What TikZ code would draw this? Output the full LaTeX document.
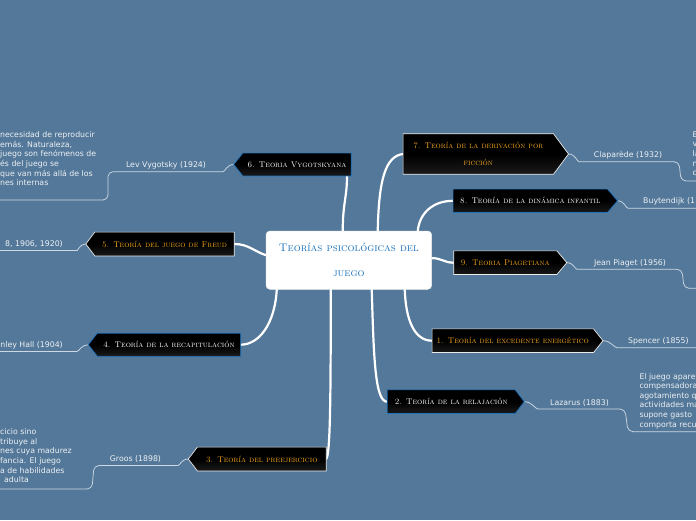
\documentclass[tikz,border=0pt]{standalone}
\usepackage{fontspec}
\newfontfamily\labfont{DejaVu Sans}
\usetikzlibrary{calc,backgrounds}
\pgfdeclarelayer{bgcolor}
\pgfsetlayers{bgcolor,background,main}
\definecolor{bgc}{RGB}{84,120,153}
\definecolor{bord}{RGB}{30,115,190}
\definecolor{orng}{RGB}{247,168,27}
\definecolor{cblue}{RGB}{25,112,186}
\definecolor{thinc}{RGB}{205,216,227}
\definecolor{ltxt}{RGB}{236,240,244}
\tikzset{
 bx/.style={rectangle, inner sep=0pt, align=center, font=\fontsize{8.2}{10}\selectfont\scshape},
 otx/.style={bx, text=orng},
 wtx/.style={bx, text=white},
 shp/.style={top color=black, bottom color=black!90, middle color=black, line width=0.7pt},
 obd/.style={shp, draw=white!85!gray},
 wbd/.style={shp, draw=bord},
 cnode/.style={rectangle, rounded corners=4pt, fill=white, draw=white!88!gray, line width=0.5pt, align=center, text=cblue, font=\fontsize{11}{25}\selectfont\scshape},
 trunk/.style={draw=white, line width=2.2pt, line cap=round},
 thinl/.style={draw=thinc, line width=0.75pt, rounded corners=5pt},
 lab/.style={text=ltxt, font=\labfont\fontsize{7.8}{9.6}\selectfont, inner sep=0pt},
 blk/.style={lab, align=left, anchor=north west},
}
\begin{document}
\begin{tikzpicture}[x=1pt,y=-1pt]
\begin{pgfonlayer}{bgcolor}
\fill[bgc] (0,0) rectangle (696,520);
\end{pgfonlayer}
\useasboundingbox (0,0) rectangle (696,520);

% central node
\node[cnode, minimum width=165.7pt, minimum height=58.3pt] (c) at (348.85,260.15) {Teorías psicológicas del\\juego};

% branch nodes
\node[wtx, minimum width=108pt, minimum height=22.4pt] (n6) at (297,164.5) {6. Teoria Vygotskyana};
\node[otx, minimum width=139pt, minimum height=23.4pt] (n5) at (164.5,244) {5. Teoría del juego de Freud};
\node[wtx, minimum width=143pt, minimum height=22.7pt] (n4) at (169,344.7) {4. Teoría de la recapitulación};
\node[otx, minimum width=128.5pt, minimum height=23.4pt] (n3) at (261.8,459) {3. Teoría del preejercicio};
\node[otx, minimum width=150pt, minimum height=40pt, font=\fontsize{8.2}{17}\selectfont\scshape] (n7) at (478.3,154) {7. Teoría de la derivación por\\ficción};
\node[wtx, minimum width=154pt, minimum height=23pt] (n8) at (530.3,200.8) {8. Teoría de la dinámica infantil};
\node[otx, minimum width=102.7pt, minimum height=23.3pt] (n9) at (505.3,262.7) {9. Teoria Piagetiana};
\node[otx, minimum width=161pt, minimum height=23.3pt] (n1) at (512.8,340.7) {1. Teoría del excedente energético};
\node[wtx, minimum width=127.7pt, minimum height=23.3pt] (n2) at (451.2,401.7) {2. Teoría de la relajación};

% tips
\coordinate (t6) at ([xshift=-9pt]n6.west);
\coordinate (t5) at ([xshift=-9pt]n5.west);
\coordinate (t4) at ([xshift=-9pt]n4.west);
\coordinate (t3) at ([xshift=-9pt]n3.west);
\coordinate (t7) at ([xshift=15pt]n7.east);
\coordinate (t8) at ([xshift=10pt]n8.east);
\coordinate (t9) at ([xshift=10pt]n9.east);
\coordinate (t1) at ([xshift=9.5pt]n1.east);
\coordinate (t2) at ([xshift=9pt]n2.east);

% labels
\node[lab] (l6) at (166,165.5) {Lev Vygotsky (1924)};
\node[lab, anchor=east] (l5) at (63,244.5) {8, 1906, 1920)};
\node[lab, anchor=east] (l4) at (63,345.5) {nley Hall (1904)};
\node[lab] (l3) at (135.5,459.5) {Groos (1898)};
\node[lab] (l7) at (628,155) {Claparède (1932)};
\node[lab, anchor=west] (l8) at (643,201.2) {Buytendijk (1};
\node[lab] (l9) at (630,263.5) {Jean Piaget (1956)};
\node[lab, anchor=west] (l1) at (628,341.5) {Spencer (1855)};
\node[lab] (l2) at (579.5,402.8) {Lazarus (1883)};

% text blocks
\node[blk] (b6) at (0,131.5) {necesidad de reproducir\\emás. Naturaleza,\\juego son fenómenos de\\és del juego se\\que van más allá de los\\nes internas};
\node[blk] (b3) at (0,428.5) {cicio sino\\tribuye al\\nes cuya madurez\\fancia. El juego\\a de habilidades\\\hspace*{4pt}adulta};
\node[blk] (b2) at (639.3,373) {El juego apare\\compensadora\\agotamiento q\\actividades ma\\supone gasto\\comporta recu};
\node[blk] (b7) at (692.5,131.5) {E\\v\\la\\n\\c};

\begin{pgfonlayer}{background}
% main connectors
\path[trunk] ($(c.north west)+(77,0)$) .. controls +(0,-28) and +(0,22) .. ($(n6.south)+(50,0)$);
\path[trunk] ($(c.north west)+(112,0)$) .. controls +(1,-50) and +(-18,2) .. (n7.west);
\path[trunk] ($(c.north west)+(152,0)$) .. controls +(2,-18) and +(-20,0) .. (n8.west);
\path[trunk] ($(c.east)+(0,-2)$) .. controls +(10,0) and +(-10,0) .. (n9.west);
\path[trunk] ($(c.south west)+(139,0)$) .. controls +(1,30) and +(-18,0) .. (n1.west);
\path[trunk] ($(c.south west)+(106,0)$) .. controls +(2,70) and +(-12,0) .. (n2.west);
\path[trunk] ($(c.south west)+(65,0)$) .. controls +(0,110) and +(4,-5) .. (n3.east);
\path[trunk] ($(c.south west)+(11,0)$) .. controls +(-2,35) and +(18,0) .. (n4.east);
\path[trunk] ($(c.west)+(0,-5)$) .. controls +(-12,-4) and +(14,0) .. (n5.east);
% sub connectors
\path[thinl] (t6) .. controls +(-7,0) and +(7,0) .. (218,171.7) -- (108,171.7) -- (108,200) -- (-5,200);
\path[thinl] (t5) .. controls +(-6,0) and +(6,0) .. (72,250.5) -- (-5,250.5);
\path[thinl] (t4) .. controls +(-7,0) and +(7,0) .. (72,351.5) -- (-5,351.5);
\path[thinl] (t3) .. controls +(-7,0) and +(7,0) .. (173,465.5) -- (94,465.5) -- (92,489) -- (-5,489);
\path[thinl] (t7) .. controls +(7,0) and +(-7,0) .. (584,161.7) -- (679,161.7) -- (681,181) -- (700,181);
\path[thinl] (t8) .. controls +(7,0) and +(-7,0) .. (633,208.3) -- (700,208.3);
\path[thinl] (t9) .. controls +(7,0) and +(-7,0) .. (582,269.3) -- (682,269.3) -- (684,288.3) -- (700,288.3);
\path[thinl] (t1) .. controls +(8,0) and +(-8,0) .. (622,347.7) -- (700,347.7);
\path[thinl] (t2) .. controls +(8,0) and +(-8,0) .. (543,409) -- (625,409) -- (628,431.7) -- (700,431.7);
% box shapes
\foreach \n/\s in {n6/wbd,n5/obd,n4/wbd,n3/obd}{
 \path[\s] (\n.north east) -- (\n.north west) -- ([xshift=-9pt]\n.west) -- (\n.south west) -- (\n.south east) -- cycle;
}
\path[obd] (n7.north west) -- (n7.north east) -- (t7) -- (n7.south east) -- (n7.south west) -- cycle;
\path[wbd] (n8.north west) -- (n8.north east) -- (t8) -- (n8.south east) -- (n8.south west) -- cycle;
\path[obd] (n9.north west) -- (n9.north east) -- (t9) -- (n9.south east) -- (n9.south west) -- cycle;
\path[obd] (n1.north west) -- (n1.north east) -- (t1) -- (n1.south east) -- (n1.south west) -- cycle;
\path[wbd] (n2.north west) -- (n2.north east) -- (t2) -- (n2.south east) -- (n2.south west) -- cycle;
\end{pgfonlayer}
\end{tikzpicture}
\end{document}
